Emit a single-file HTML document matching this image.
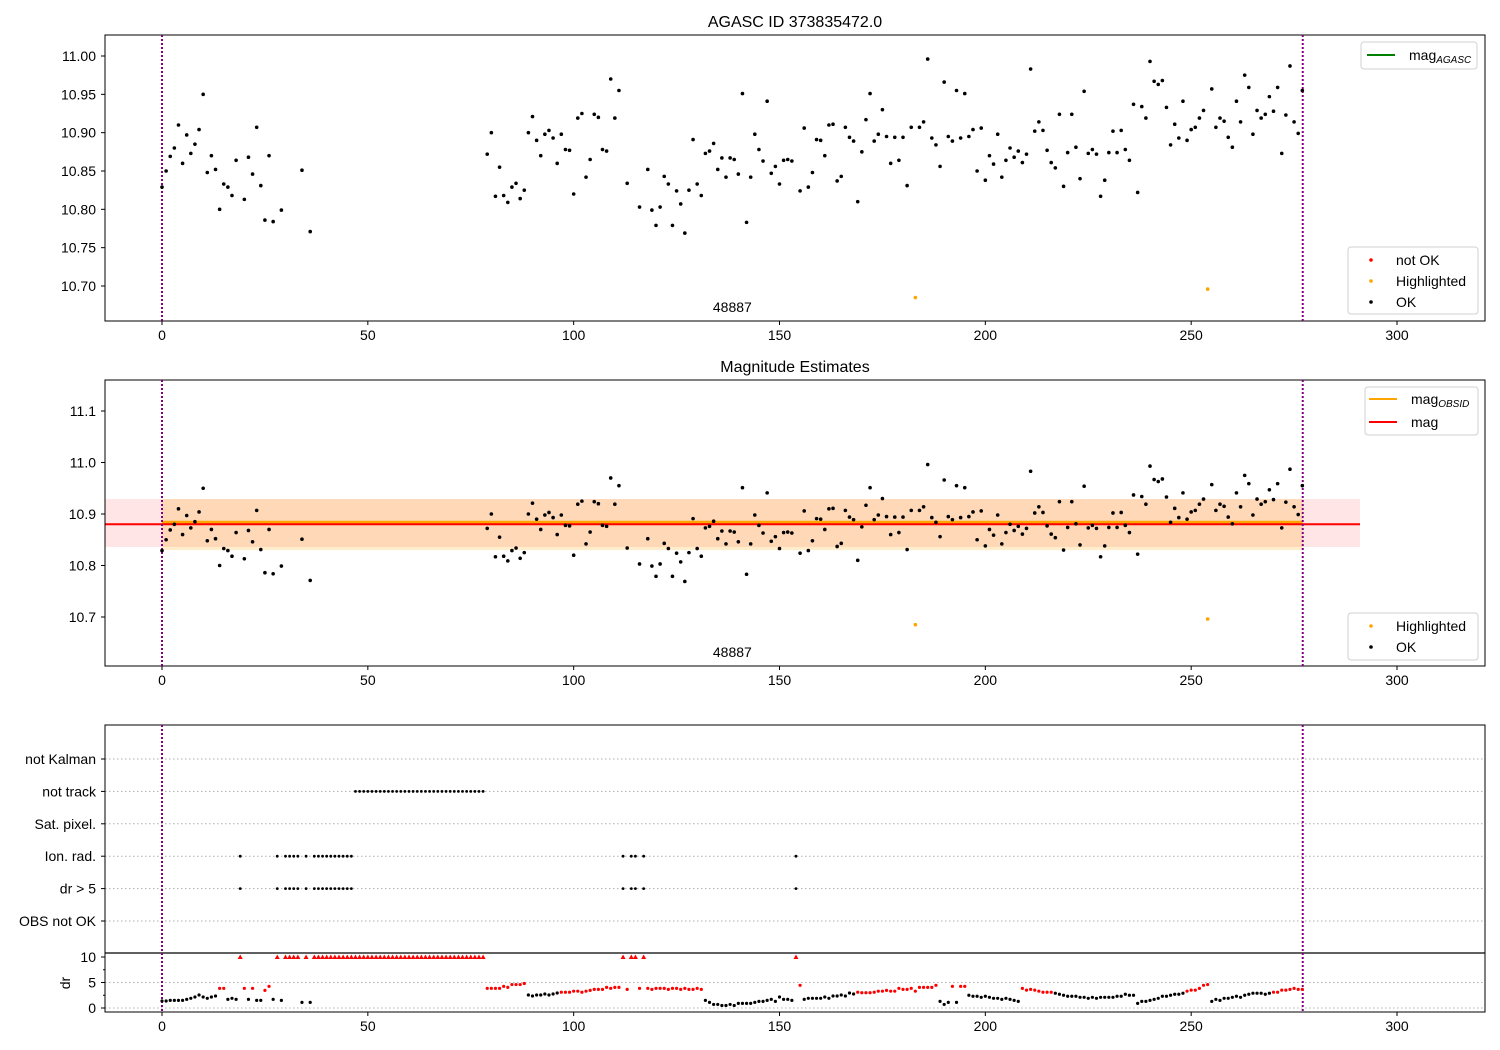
<!DOCTYPE html>
<html><head><meta charset="utf-8"><style>
html,body{margin:0;padding:0;background:#fff}
svg{display:block;font-family:"Liberation Sans","DejaVu Sans",sans-serif}
</style></head><body>
<svg id="chart" xmlns="http://www.w3.org/2000/svg" width="1500" height="1050" viewBox="0 0 1500 1050">
<rect width="1500" height="1050" fill="#fff"/>
<g id="g"></g>
</svg>
<script>
// Observation mags (null = flagged / not tracked)
const magsA = [10.829,10.850,10.869,10.880,10.910,10.860,10.897,10.873,10.885,10.904,10.950,10.848,10.870,10.852,10.800,10.833,10.829,10.818,10.864,null,10.813,10.868,10.846,10.907,10.831,10.786,10.870,10.784,null,10.799,null,null,null,null,10.851,null,10.771];
const magsB = [10.872,10.900,10.817,10.855,10.818,10.809,10.829,10.834,10.814,10.825,10.900,10.921,10.890,10.870,10.898,10.903,10.893,10.860,10.898,10.878,10.877,10.820,10.919,10.925,10.842,10.865,10.924,10.920,10.878,10.876,10.970,10.919,10.955,null,10.834,null,null,10.803,null,10.852,10.799,10.779,10.803,10.843,10.833,10.779,10.824,10.807,10.769,10.825,10.891,10.833,10.818,10.873,10.876,10.886,10.852,10.867,10.842,10.867,10.865,10.846,10.951,10.783,10.842,10.898,10.878,10.863,10.941,10.847,10.856,10.833,10.864,10.865,10.863,null,10.824,10.906,10.829,10.848,10.891,10.890,10.870,10.910,10.911,10.837,10.843,10.907,10.894,10.889,10.810,10.875,10.917,10.951,10.889,10.898,10.930,10.895,10.860,10.894,10.864,10.894,10.831,10.907,10.685,10.907,10.914,10.996,10.893,10.884,10.856,10.966,10.895,10.889,10.955,10.893,10.951,10.895,10.904,10.850,10.906,10.838,10.870,10.859,10.898,10.842,10.864,10.880,10.868,10.876,10.861,10.872,10.983,10.902,10.914,10.903,10.877,10.861,10.854,10.924,10.830,10.874,10.924,10.881,10.840,10.954,10.873,10.878,10.872,10.817,10.838,10.874,10.902,10.874,10.903,10.878,10.864,10.937,10.822,10.934,10.919,10.993,10.967,10.963,10.968,10.933,10.884,10.911,10.893,10.941,10.890,10.904,10.907,10.919,10.929,10.696,10.957,10.907,10.919,10.915,10.894,10.881,10.941,10.914,10.975,10.959,10.898,10.929,10.919,10.924,10.947,10.928,10.959,10.873,10.923,10.987,10.914,10.899,10.955];
const drA = [1.37,1.37,1.5,1.5,1.5,1.5,1.7,1.9,2.16,2.55,2.16,1.9,2.16,2.35,3.86,3.86,1.7,1.9,1.7,10,3.86,1.7,3.86,1.5,1.5,3.46,4.25,1.7,10,1.5,10,10,10,10,1.1,10,1.1];
const drB = [3.86,3.86,3.86,3.86,4.25,4.05,4.6,4.6,4.6,4.8,2.55,2.35,2.55,2.55,2.75,2.55,2.75,2.94,3.1,3.1,3.1,3.3,3.3,3.1,3.3,3.46,3.65,3.65,3.65,4.05,3.86,4.05,4.05,10,3.65,10,10,3.86,10,3.86,3.65,3.86,3.86,3.86,3.65,3.86,3.86,3.65,3.86,3.65,3.65,3.86,3.65,1.5,1.1,0.7,0.7,0.5,0.5,0.7,0.5,0.9,0.9,0.9,0.9,1.1,1.3,1.3,1.5,1.7,1.3,2.16,1.7,1.7,1.5,10,4.45,1.7,1.9,1.9,1.9,1.9,2.16,1.9,2.35,2.35,2.55,2.35,2.94,2.75,3.1,3.0,3.0,3.0,3.1,3.3,3.3,3.46,3.3,3.3,3.86,3.65,3.65,3.86,3.3,4.05,4.05,4.05,4.05,4.45,1.3,0.7,1.1,4.25,1.1,4.25,4.25,2.5,2.3,2.3,2.1,2.3,2.1,1.9,1.9,1.7,1.9,1.7,1.5,1.3,3.85,3.5,3.65,3.5,3.3,3.1,3.1,3.1,2.9,2.7,2.5,2.3,2.3,2.3,2.1,2.1,1.9,2.1,1.9,2.1,2.1,2.1,2.1,2.3,2.3,2.7,2.5,2.5,0.9,1.3,1.3,1.5,1.7,1.9,2.3,2.3,2.5,2.7,2.7,2.9,3.3,3.5,3.5,3.85,4.45,4.6,1.3,1.7,1.5,1.9,1.9,2.1,2.3,2.1,2.5,2.7,2.9,2.9,2.9,2.7,2.9,3.1,3.1,3.5,3.5,3.65,3.85,3.65,3.65];
const highlighted = [183, 254];
const flagDr5 = [19,28,30,31,32,33,35,37,38,39,40,41,42,43,44,45,46,112,114,115,117,154];
const flagIon = [19,28,30,31,32,33,35,37,38,39,40,41,42,43,44,45,46,112,114,115,117,154];
const notTrackStart = 47, notTrackEnd = 78;
const xTicks = [0,50,100,150,200,250,300];
const y1Ticks = [10.70,10.75,10.80,10.85,10.90,10.95,11.00];
const y2Ticks = [10.7,10.8,10.9,11.0,11.1];
const drTicks = [0,5,10];
const rowLabels = ["not Kalman","not track","Sat. pixel.","Ion. rad.","dr > 5","OBS not OK"];
const magMean = 10.880, magLo = 10.836, magHi = 10.929;
const obsMean = 10.884, obsLo = 10.830, obsHi = 10.929;
const tStart = 0, tEnd = 277.1;

const gap = []; for (let i = 37; i <= 78; i++) gap.push(null);
const mags = magsA.concat(gap, magsB);
const gapDr = []; for (let i = 37; i <= 78; i++) gapDr.push(10);
const dr = drA.concat(gapDr, drB);

const NS = "http://www.w3.org/2000/svg";
const root = document.getElementById('g');
function el(tag, attrs, parent, text) {
  const e = document.createElementNS(NS, tag);
  for (const k in attrs) e.setAttribute(k, attrs[k]);
  if (text !== undefined) e.textContent = text;
  (parent || root).appendChild(e);
  return e;
}
const X = t => 162 + t * 4.1167;
const Y1 = m => 56 + (11.0 - m) * 766.67;
const Y2 = m => 411 + (11.1 - m) * 515;
const YD = d => 1008 - d * 5.1;
const L = 105, R = 1485;
const panels = [{top:35,bot:321,name:'agasc-panel'},{top:380,bot:666,name:'estimates-panel'},{top:725,bot:1012,name:'flags-panel'}];

// titles
let t = el('text',{x:795,y:27,'text-anchor':'middle','font-size':16,fill:'#000'},root,'AGASC ID 373835472.0');


t = el('text',{x:795,y:372,'text-anchor':'middle','font-size':16,fill:'#000'},root,'Magnitude Estimates');



// panel 2 bands
let b = el('rect',{x:L,y:Y2(magHi),width:1360-L,height:Y2(magLo)-Y2(magHi),fill:'rgba(255,0,0,0.1)'});


b = el('rect',{x:X(tStart),y:Y2(obsHi),width:X(tEnd)-X(tStart),height:Y2(obsLo)-Y2(obsHi),fill:'rgba(255,165,0,0.2)'});


b = el('line',{x1:X(tStart),x2:X(tEnd),y1:Y2(obsMean),y2:Y2(obsMean),stroke:'orange','stroke-width':3});


b = el('line',{x1:L,x2:1360,y1:Y2(magMean),y2:Y2(magMean),stroke:'red','stroke-width':2});



// panel 3 gridlines
rowLabels.forEach((lab,i)=>{
  const y = 759 + i*32.4;
  const gl = el('line',{x1:L,x2:R,y1:y,y2:y,stroke:'#b0b0b0','stroke-width':1,'stroke-dasharray':'1.5,2.5'});
  
  
  const tl = el('text',{x:96,y:y+5,'text-anchor':'end','font-size':14,fill:'#000'},root,lab);
  
  
  el('line',{x1:L-4,x2:L,y1:y,y2:y,stroke:'#000'});
});
[0,5].forEach(v=>{
  const gl = el('line',{x1:L,x2:R,y1:YD(v),y2:YD(v),stroke:'#b0b0b0','stroke-width':1,'stroke-dasharray':'1.5,2.5'});
  
  
});
el('line',{x1:L,x2:R,y1:953,y2:953,stroke:'#000','stroke-width':1.2});
drTicks.forEach(v=>{
  el('line',{x1:L-4,x2:L,y1:YD(v),y2:YD(v),stroke:'#000'});
  const tl = el('text',{x:96,y:YD(v)+5,'text-anchor':'end','font-size':14},root,String(v));
  
  
});
[2.5,7.5].forEach(v=>el('line',{x1:L-2,x2:L,y1:YD(v),y2:YD(v),stroke:'#000'}));
t = el('text',{x:70,y:983,'text-anchor':'middle','font-size':14,transform:'rotate(-90 70 983)'},root,'dr');



// frames, x ticks, vlines
panels.forEach(p=>{
  const f = el('rect',{x:L,y:p.top,width:R-L,height:p.bot-p.top,fill:'none',stroke:'#000','stroke-width':1});
  
  
  xTicks.forEach(v=>{
    el('line',{x1:X(v),x2:X(v),y1:p.bot,y2:p.bot+4,stroke:'#000'});
    const tl = el('text',{x:X(v),y:p.bot+19,'text-anchor':'middle','font-size':14},root,String(v));
    
    
  });
  [tStart,tEnd].forEach(v=>{
    const vl = el('line',{x1:X(v),x2:X(v),y1:p.top,y2:p.bot,stroke:'purple','stroke-width':2,'stroke-dasharray':'2,2'});
    
    
  });
});
y1Ticks.forEach(v=>{
  el('line',{x1:L-4,x2:L,y1:Y1(v),y2:Y1(v),stroke:'#000'});
  const tl = el('text',{x:96,y:Y1(v)+5,'text-anchor':'end','font-size':14},root,v.toFixed(2));
  
  
});
y2Ticks.forEach(v=>{
  el('line',{x1:L-4,x2:L,y1:Y2(v),y2:Y2(v),stroke:'#000'});
  const tl = el('text',{x:96,y:Y2(v)+5,'text-anchor':'end','font-size':14},root,v.toFixed(1));
  
  
});
[307,652].forEach(y=>{
  const tl = el('text',{x:X((tStart+tEnd)/2),y:y+5,'text-anchor':'middle','font-size':14},root,'48887');
  
  
});

// scatter points
mags.forEach((m,i)=>{
  if (m === null) return;
  const hl = highlighted.includes(i);
  const c = hl ? 'orange' : '#000';
  const p1 = el('circle',{cx:X(i),cy:Y1(m),r:1.8,fill:c});
  
  
  const p2 = el('circle',{cx:X(i),cy:Y2(m),r:1.8,fill:c});
  
  
});
dr.forEach((d,i)=>{
  const x = X(i);
  let p;
  if (d >= 10) {
    const y = YD(10);
    p = el('path',{d:`M${x} ${y-2.5}L${x+2.5} ${y+2}L${x-2.5} ${y+2}Z`,fill:'red'});
  } else {
    p = el('circle',{cx:x,cy:YD(d),r:1.6,fill: d >= 3 ? 'red' : '#000'});
  }
  
  
});
function flagDot(i,row){
  const p = el('circle',{cx:X(i),cy:759+row*32.4,r:1.4,fill:'#000'});
  
  
}
for (let i = notTrackStart; i <= notTrackEnd; i++) flagDot(i,1);
flagIon.forEach(i=>flagDot(i,3));
flagDr5.forEach(i=>flagDot(i,4));

// legends
function legendBox(x,y,w,h,name){
  const r = el('rect',{x:x,y:y,width:w,height:h,rx:3,fill:'rgba(255,255,255,0.85)',stroke:'#d0d0d0'});
  
  
}
function lineEntry(x,y,color,main,sub,name){
  const ln = el('line',{x1:x,x2:x+28,y1:y,y2:y,stroke:color,'stroke-width':2});
  
  
  const tx = el('text',{x:x+42,y:y+5,'font-size':14},root);
  
  
  tx.appendChild(document.createTextNode(main));
  if (sub) { const ts = el('tspan',{'font-size':10,'font-style':'italic',dy:3},tx,sub); }
}
function dotEntry(x,y,color,label,name){
  const c = el('circle',{cx:x+17,cy:y,r:1.8,fill:color});
  
  
  const tx = el('text',{x:x+42,y:y+5,'font-size':14},root,label);
  
  
}
legendBox(1361,42,116,27,'legend-agasc');
lineEntry(1367,55,'green','mag','AGASC','legend-mag-agasc');
legendBox(1348,247,130,67,'legend-status');
dotEntry(1354,260,'red','not OK','legend-not-ok');
dotEntry(1354,281,'orange','Highlighted','legend-highlighted');
dotEntry(1354,302,'#000','OK','legend-ok');
legendBox(1365,387,113,48,'legend-mags');
lineEntry(1369,399,'orange','mag','OBSID','legend-mag-obsid');
lineEntry(1369,422,'red','mag','','legend-mag');
legendBox(1348,613,130,47,'legend-status-2');
dotEntry(1354,626,'orange','Highlighted','legend-highlighted-2');
dotEntry(1354,647,'#000','OK','legend-ok-2');
</script>
</body></html>
